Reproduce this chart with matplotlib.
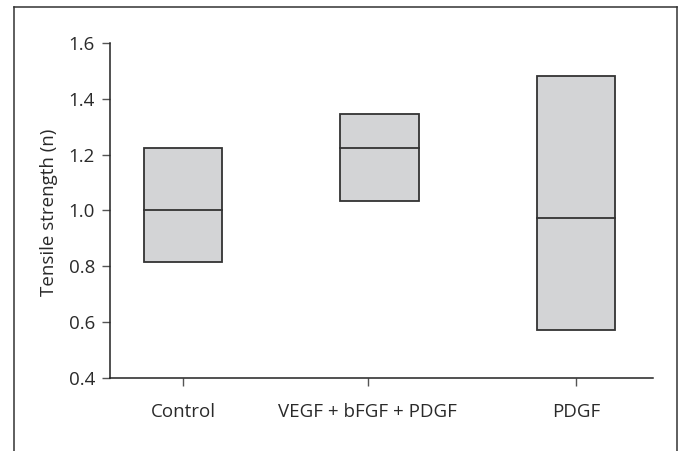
import matplotlib.pyplot as plt
from matplotlib.patches import Rectangle
from matplotlib.lines import Line2D

# data
groups = ['Control', 'VEGF + bFGF + PDGF', 'PDGF']
box_pos = [0, 1, 2]
tick_pos = [0, 0.94, 2]
q_low = [0.815, 1.035, 0.572]
median = [1.003, 1.225, 0.974]
q_high = [1.225, 1.346, 1.48]
y_ticks = [0.4, 0.6, 0.8, 1.0, 1.2, 1.4, 1.6]

plt.rcParams['font.family'] = ['Open Sans', 'DejaVu Sans']
txt = '#2a2a2a'

fig = plt.figure(figsize=(6.79, 4.51), dpi=100)
ax = fig.add_axes([0.162, 0.1619, 0.7997, 0.7428])

width = 0.4
for x, lo, med, hi in zip(box_pos, q_low, median, q_high):
    ax.add_patch(Rectangle((x - width / 2, lo), width, hi - lo,
                           facecolor='#d3d4d6', edgecolor='#333333', linewidth=1.3))
    ax.plot([x - width / 2, x + width / 2], [med, med], color='#333333', linewidth=1.3)

ax.set_xlim(-0.3715, 2.392)
ax.set_ylim(0.4, 1.6)
ax.set_xticks(tick_pos)
ax.set_xticklabels(groups)
ax.set_yticks(y_ticks)
ax.set_yticklabels([f'{v:.1f}' for v in y_ticks])
ax.set_ylabel('Tensile strength (n)', fontsize=13.5, color=txt)
ax.yaxis.set_label_coords(-0.096, 0.495)

ax.spines['top'].set_visible(False)
ax.spines['right'].set_visible(False)
for s in ['left', 'bottom']:
    ax.spines[s].set_color('#222222')
    ax.spines[s].set_linewidth(1.1)
ax.tick_params(axis='both', colors='#555555', length=5.8, width=1, labelsize=13.5, labelcolor=txt)
ax.tick_params(axis='x', pad=12)
ax.tick_params(axis='y', pad=5)

# frame around the figure (bottom edge cropped off)
x0, x1, y1 = 14 / 679, 677 / 679, 1 - 7 / 451
for xs, ys in [([x0, x0], [0, y1]), ([x0, x1], [y1, y1]), ([x1, x1], [y1, 0])]:
    fig.add_artist(Line2D(xs, ys, color='#333333', linewidth=1.1, transform=fig.transFigure))

fig.savefig('out.png', dpi=100, facecolor='white')
